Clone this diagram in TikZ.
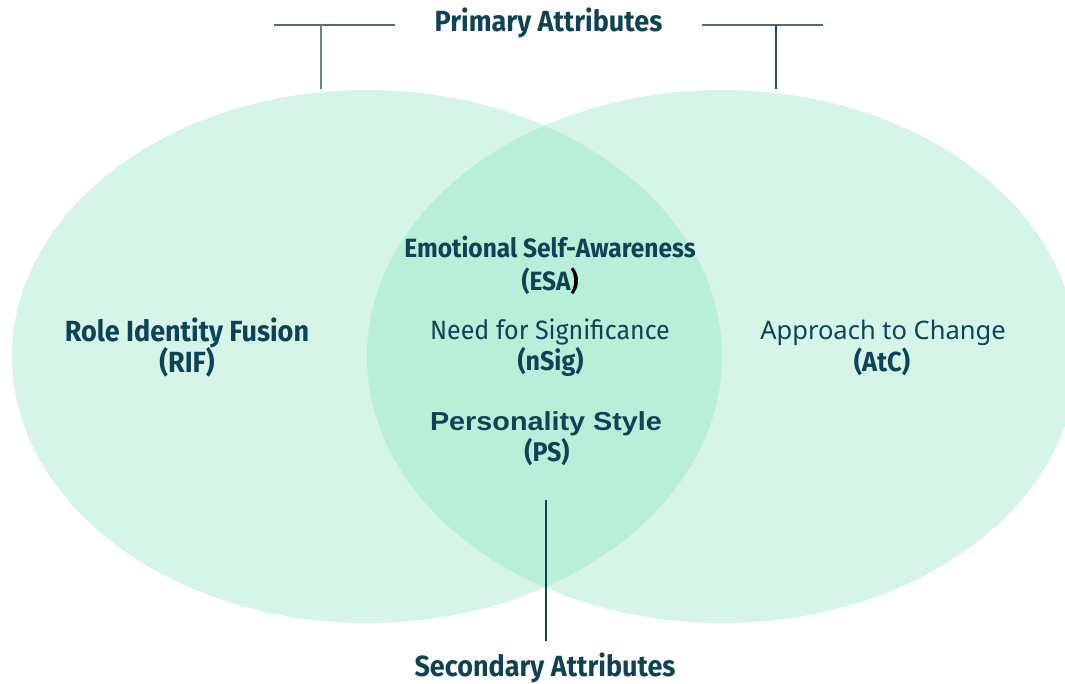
\documentclass[tikz,border=0pt]{standalone}
\usepackage{fontspec}
\setmainfont{Fira Sans}
\newfontfamily\headfont{Liberation Sans}
\newfontfamily\plainfont{Noto Sans}
\definecolor{setfill}{HTML}{D5F5E9}
\definecolor{overlapfill}{HTML}{B9EFD9}
\definecolor{ink}{HTML}{0E4255}
\definecolor{bracketgrey}{HTML}{4D6F7B}
\definecolor{bracketdark}{HTML}{1D4B5B}
\tikzset{
  lbl/.style={anchor=base, inner sep=0pt, text=ink},
  bracket/.style={line width=1.4pt, color=bracketgrey},
}
\begin{document}
\begin{tikzpicture}[x=1pt,y=-1pt]
  \clip (0,0) rectangle (1065,683);
  \fill[white] (0,0) rectangle (1065,683);

  % the two sets
  \fill[setfill] (367,356.5) ellipse [x radius=355, y radius=266.5];
  \fill[setfill] (722,356.5) ellipse [x radius=355, y radius=266.5];
  \begin{scope}
    \clip (367,356.5) ellipse [x radius=355, y radius=266.5];
    \fill[overlapfill] (722,356.5) ellipse [x radius=355, y radius=266.5];
  \end{scope}

  % brackets pointing at both sets
  \coordinate (tlA) at (274,25);
  \coordinate (tlB) at (395,25);
  \coordinate (tlM) at (321,25);
  \coordinate (tlE) at (321,89);
  \coordinate (trA) at (702,25);
  \coordinate (trB) at (823,25);
  \coordinate (trM) at (776,25);
  \coordinate (trE) at (776,89);
  \draw[bracket] (tlA) -- (tlB);
  \draw[bracket, color=bracketgrey!85!white] (tlM) -- (tlE);
  \draw[bracket] (trA) -- (trB);
  \draw[bracket, color=bracketdark] (trM) -- (trE);

  \coordinate (botA) at (546,500);
  \coordinate (botB) at (546,641);
  \draw[line width=1.4pt, color=ink] (botA) -- (botB);

  % headings
  \node[lbl, font=\bfseries\fontsize{27}{27}\selectfont] (primary) at (548.5,31) {\scalebox{1}[1.08]{Primary Attributes}};
  \node[lbl, font=\bfseries\fontsize{27}{27}\selectfont] (secondary) at (545,676) {\scalebox{1}[1.08]{Secondary Attributes}};

  % left set
  \node[lbl, font=\bfseries\fontsize{27}{27}\selectfont] (rif) at (187,341) {\scalebox{1}[1.08]{Role Identity Fusion}};
  \node[lbl, font=\bfseries\fontsize{27}{27}\selectfont] (rifabbr) at (187,372) {\scalebox{1}[1.08]{(RIF)}};

  % right set
  \node[lbl, font=\plainfont\fontsize{25.5}{25.5}\selectfont] (atc) at (883,339.5) {Approach to Change};
  \node[lbl, font=\bfseries\fontsize{25.5}{25.5}\selectfont] (atcabbr) at (882,371) {\scalebox{1}[1.08]{(AtC)}};

  % overlap
  \node[lbl, font=\bfseries\fontsize{24.5}{24.5}\selectfont] (esa) at (550,257.5) {\scalebox{1}[1.08]{Emotional Self-Awareness}};
  \node[lbl, font=\bfseries\fontsize{24.5}{24.5}\selectfont] (esaabbr) at (550,290) {\scalebox{1}[1.08]{(ESA\textcolor{black}{)}}};
  \node[lbl, font=\fontsize{25}{25}\selectfont] (nsig) at (550,339.5) {\scalebox{1}[1.06]{Need for Significance}};
  \node[lbl, font=\bfseries\fontsize{25}{25}\selectfont] (nsigabbr) at (550.5,370) {\scalebox{1}[1.08]{(nSig)}};
  \node[lbl, font=\headfont\bfseries\fontsize{26}{26}\selectfont] (ps) at (546,430) {\resizebox{232pt}{\height}{Personality Style}};
  \node[lbl, font=\bfseries\fontsize{25}{25}\selectfont] (psabbr) at (547,461.5) {\scalebox{1}[1.08]{(PS)}};
\end{tikzpicture}
\end{document}
